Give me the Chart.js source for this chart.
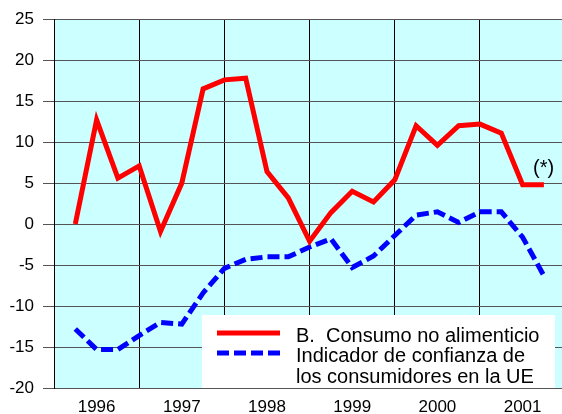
<!DOCTYPE html>
<html>
<head>
<meta charset="utf-8">
<script src="https://cdn.jsdelivr.net/npm/chart.js@4.4.1/dist/chart.umd.min.js"></script>
<style>
    html, body { margin: 0; padding: 0; background: #ffffff; }
    #wrap { width: 562px; height: 414px; }
</style>
</head>
<body>
<div id="wrap"><canvas id="chart" width="562" height="414"></canvas></div>
<script>
// quarters: index 1 = 1996 Q1 ... index 23 = 2001 Q3
var years = ["1996", "1997", "1998", "1999", "2000", "2001"];
var quarters = [1, 2, 3, 4, 5, 6, 7, 8, 9, 10, 11, 12, 13, 14, 15, 16, 17, 18, 19, 20, 21, 22, 23];
var consumo = [0, 12.7, 5.6, 7.1, -0.9, 5.0, 16.5, 17.6, 17.8, 6.4, 3.2, -2.1, 1.4, 4.0, 2.7, 5.4, 12.0, 9.6, 12.0, 12.2, 11.1, 4.8, 4.8];
var confianza = [-12.8, -15.3, -15.3, -13.6, -12.0, -12.2, -8.4, -5.4, -4.3, -4.0, -4.0, -2.8, -1.8, -5.3, -3.9, -1.4, 1.1, 1.5, 0.2, 1.5, 1.5, -1.6, -6.3];
var legendLabels = ["B.  Consumo no alimenticio", "Indicador de confianza de", "los consumidores en la UE"];
var note = "(*)";

var FONT = "'Liberation Sans', Arial, sans-serif";

function toPoints(values) {
    var pts = [];
    for (var i = 0; i < values.length; i++) {
        pts.push({x: quarters[i], y: values[i]});
    }
    return pts;
}

var bgPlugin = {
    id: "plotBg",
    beforeDraw: function(chart) {
        var a = chart.chartArea;
        var ctx = chart.ctx;
        ctx.save();
        ctx.fillStyle = "#ccffff";
        ctx.fillRect(a.left, a.top, a.right - a.left, a.bottom - a.top);
        ctx.restore();
    }
};

var legendPlugin = {
    id: "boxLegend",
    afterDatasetsDraw: function(chart) {
        var ctx = chart.ctx;
        ctx.save();
        // note next to last point
        ctx.fillStyle = "#000000";
        ctx.font = "20px " + FONT;
        ctx.textAlign = "left";
        ctx.textBaseline = "alphabetic";
        ctx.fillText(note, 533, 174);

        // legend box
        ctx.fillStyle = "#ffffff";
        ctx.fillRect(202, 315, 353, 73);
        ctx.lineWidth = 5;
        ctx.strokeStyle = "#ff0000";
        ctx.beginPath();
        ctx.moveTo(217, 333);
        ctx.lineTo(280, 333);
        ctx.stroke();
        ctx.strokeStyle = "#0000ff";
        ctx.setLineDash([12, 5]);
        ctx.beginPath();
        ctx.moveTo(217, 353);
        ctx.lineTo(280, 353);
        ctx.stroke();
        ctx.setLineDash([]);
        ctx.fillStyle = "#000000";
        ctx.fillText(legendLabels[0], 296, 342);
        ctx.fillText(legendLabels[1], 296, 362);
        ctx.fillText(legendLabels[2], 296, 383);
        ctx.restore();
    }
};

var ctx = document.getElementById("chart").getContext("2d");
var chart = new Chart(ctx, {
    type: "line",
    data: {
        datasets: [{
            label: legendLabels[0],
            data: toPoints(consumo),
            borderColor: "#ff0000",
            borderWidth: 5,
            pointRadius: 0,
            tension: 0,
            borderJoinStyle: "miter"
        }, {
            label: legendLabels[1] + " " + legendLabels[2],
            data: toPoints(confianza),
            borderColor: "#0000ff",
            borderWidth: 5,
            borderDash: [12, 5],
            pointRadius: 0,
            tension: 0
        }]
    },
    options: {
        responsive: false,
        animation: false,
        layout: {padding: {top: 18, left: 0, right: 0, bottom: 0}},
        plugins: {
            legend: {display: false},
            tooltip: {enabled: false}
        },
        scales: {
            x: {
                type: "linear",
                min: 0,
                max: 23.85,
                afterBuildTicks: function(scale) {
                    var t = [];
                    for (var v = 0; v <= 22; v += 2) {
                        t.push({value: v});
                    }
                    scale.ticks = t;
                },
                afterFit: function(scale) {
                    scale.height = 26;
                },
                grid: {
                    drawTicks: false,
                    lineWidth: 1,
                    color: function(c) {
                        if (c.tick && c.tick.value % 4 === 0) {
                            return "#000000";
                        }
                        return "rgba(0,0,0,0)";
                    }
                },
                border: {display: true, color: "#555555", width: 1},
                ticks: {
                    autoSkip: false,
                    maxRotation: 0,
                    padding: 9,
                    color: "#000000",
                    font: {family: FONT, size: 17},
                    callback: function(value) {
                        if (value % 4 === 2) {
                            return years[(value - 2) / 4];
                        }
                        return "";
                    }
                }
            },
            y: {
                min: -20,
                max: 25,
                afterFit: function(scale) {
                    scale.width = 54;
                },
                grid: {
                    color: "#555555",
                    lineWidth: 1,
                    drawTicks: true,
                    tickLength: 11
                },
                border: {display: true, color: "#000000", width: 1},
                ticks: {
                    stepSize: 5,
                    padding: 9,
                    color: "#000000",
                    font: {family: FONT, size: 17}
                }
            }
        }
    },
    plugins: [bgPlugin, legendPlugin]
});
</script>
</body>
</html>
